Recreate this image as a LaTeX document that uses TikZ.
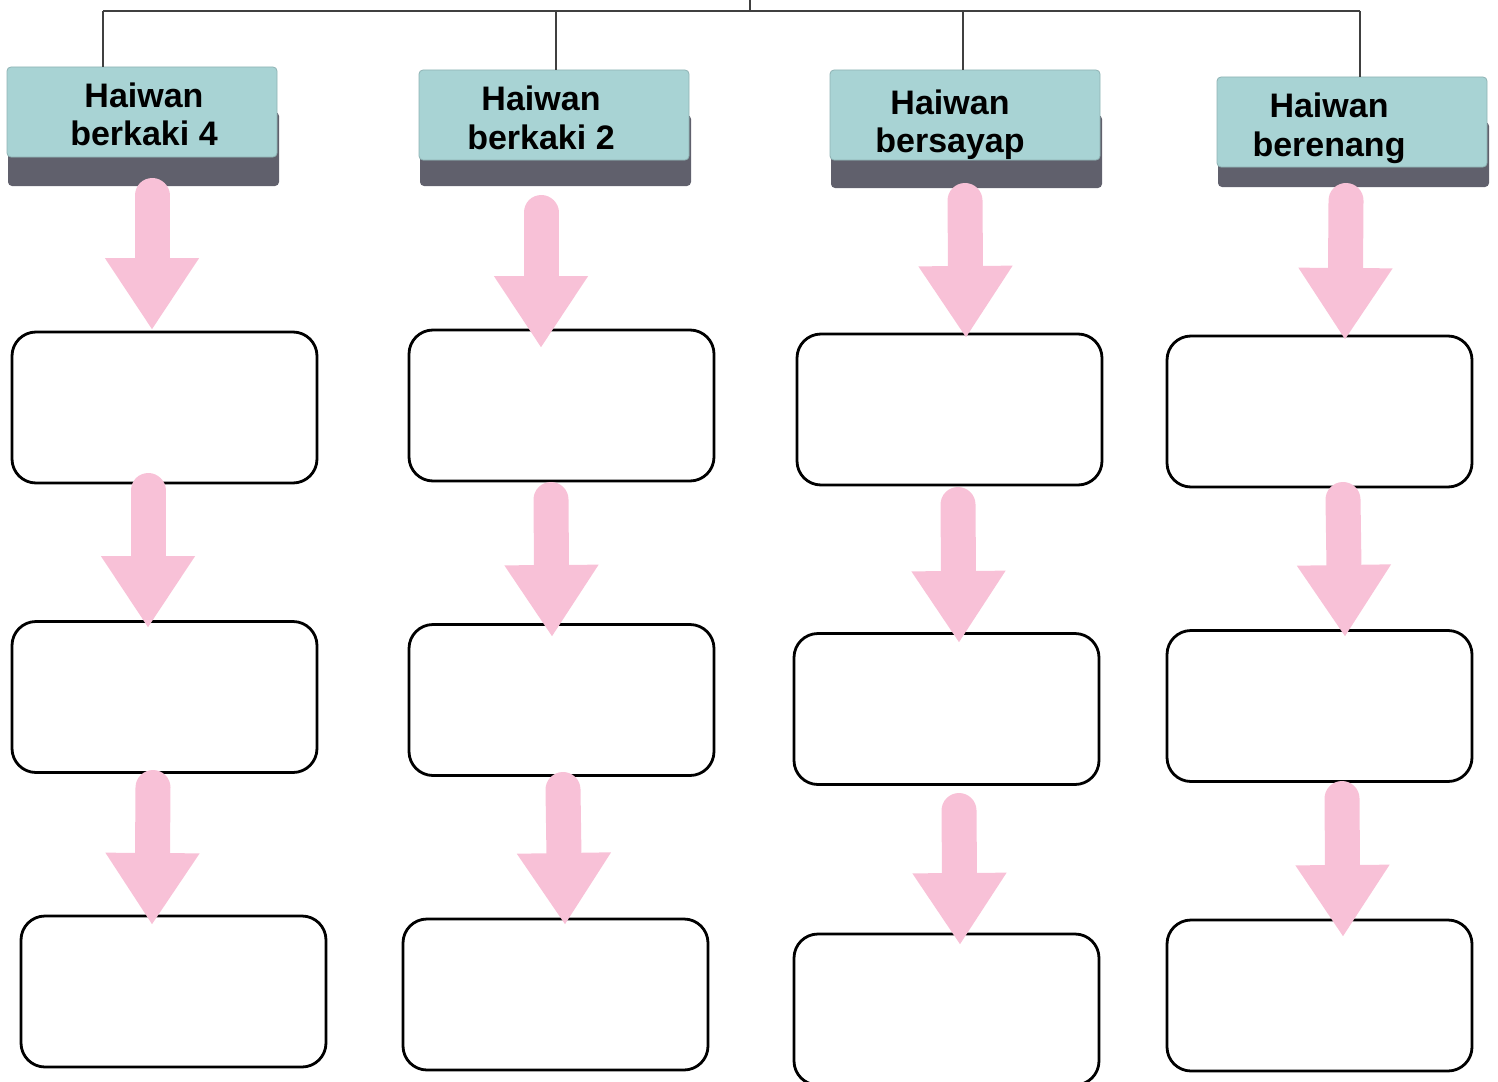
\documentclass[tikz,border=0pt]{standalone}
\usepackage{fontspec}
\setmainfont{Liberation Sans}
\usetikzlibrary{arrows.meta,positioning,calc}

\definecolor{tealbox}{RGB}{168,211,212}
\definecolor{shadowbox}{RGB}{96,96,108}
\definecolor{pinkarrow}{RGB}{248,193,215}

\begin{document}
\begin{tikzpicture}[x=0.5pt,y=-0.5pt,
	cadre/.style={draw=black,line width=1.4pt,rounded corners=12pt,minimum width=152.5pt,minimum height=75.5pt,inner sep=0pt},
	entete/.style={fill=tealbox,draw=tealbox!85!black,line width=0.4pt,rounded corners=2pt,minimum width=135pt,minimum height=45pt,inner sep=0pt},
	fleche/.style={draw=pinkarrow,line width=17.5pt,line cap=round,-{Triangle[width=44.5pt,length=36pt]}},
	lien/.style={draw=black!75,line width=1pt},
	titre/.style={font=\bfseries\fontsize{17}{19.5}\selectfont,align=center,inner sep=0pt}]
\useasboundingbox (0,0) rectangle (1498,1081);

%Entetes
\foreach \cx/\ty/\yb/\n in {142/67/186/1,554/70/186/2,965/70/188/3,1352/77/187/4}{
	\fill[shadowbox,rounded corners=2pt] (\cx-134,\ty+45) rectangle (\cx+137,\yb);
	\node[entete] (h\n) at (\cx,\ty+45) {};
}
\node[titre,anchor=base] (t1) at (144,146) {Haiwan\\berkaki 4};
\node[titre,anchor=base] (t2) at (541,149) {Haiwan\\berkaki 2};
\node[titre,anchor=base] (t3) at (950,153) {Haiwan\\bersayap};
\node[titre,anchor=base] (t4) at (1329,156) {Haiwan\\berenang};

%Liens du haut
\coordinate (j0) at (750,0);
\coordinate (j1) at (103,11);
\coordinate (j2) at (556,11);
\coordinate (j3) at (963,11);
\coordinate (j4) at (1360,11);
\draw[lien] (j1) -- (j4);
\draw[lien] (j0) -- (j0 |- j1);
\foreach \n in {1,2,3,4}
	\draw[lien] (j\n) -- (j\n |- h\n.north);

%Cases vides
\foreach \n/\cx/\cy in {11/164.5/407.5,12/164.5/697,13/173.5/991.5,
	21/561.5/405.5,22/561.5/700,23/555.5/994.5,
	31/949.5/409.5,32/946.5/709,33/946.5/1009.5,
	41/1319.5/411.5,42/1319.5/706,43/1319.5/995.5}
	\node[cadre] (b\n) at (\cx,\cy) {};

%Fleches
\foreach \n/\xa/\ya/\xb/\yb in {11/152/178/152/330,12/148/473/148/628,13/153/770/152/925,
	21/541/195/541/348,22/551/482/552/637,23/563/772/565/925,
	31/965/183/966/338,32/958/487/959/643,33/959/793/960/945,
	41/1346/183/1345/340,42/1343/482/1345/637,43/1342/781/1343/937}{
	\coordinate (d\n) at (\xa,\ya+17.5);
	\coordinate (f\n) at (\xb,\yb);
	\draw[fleche] (d\n) -- (f\n);
}

\end{tikzpicture}
\end{document}
